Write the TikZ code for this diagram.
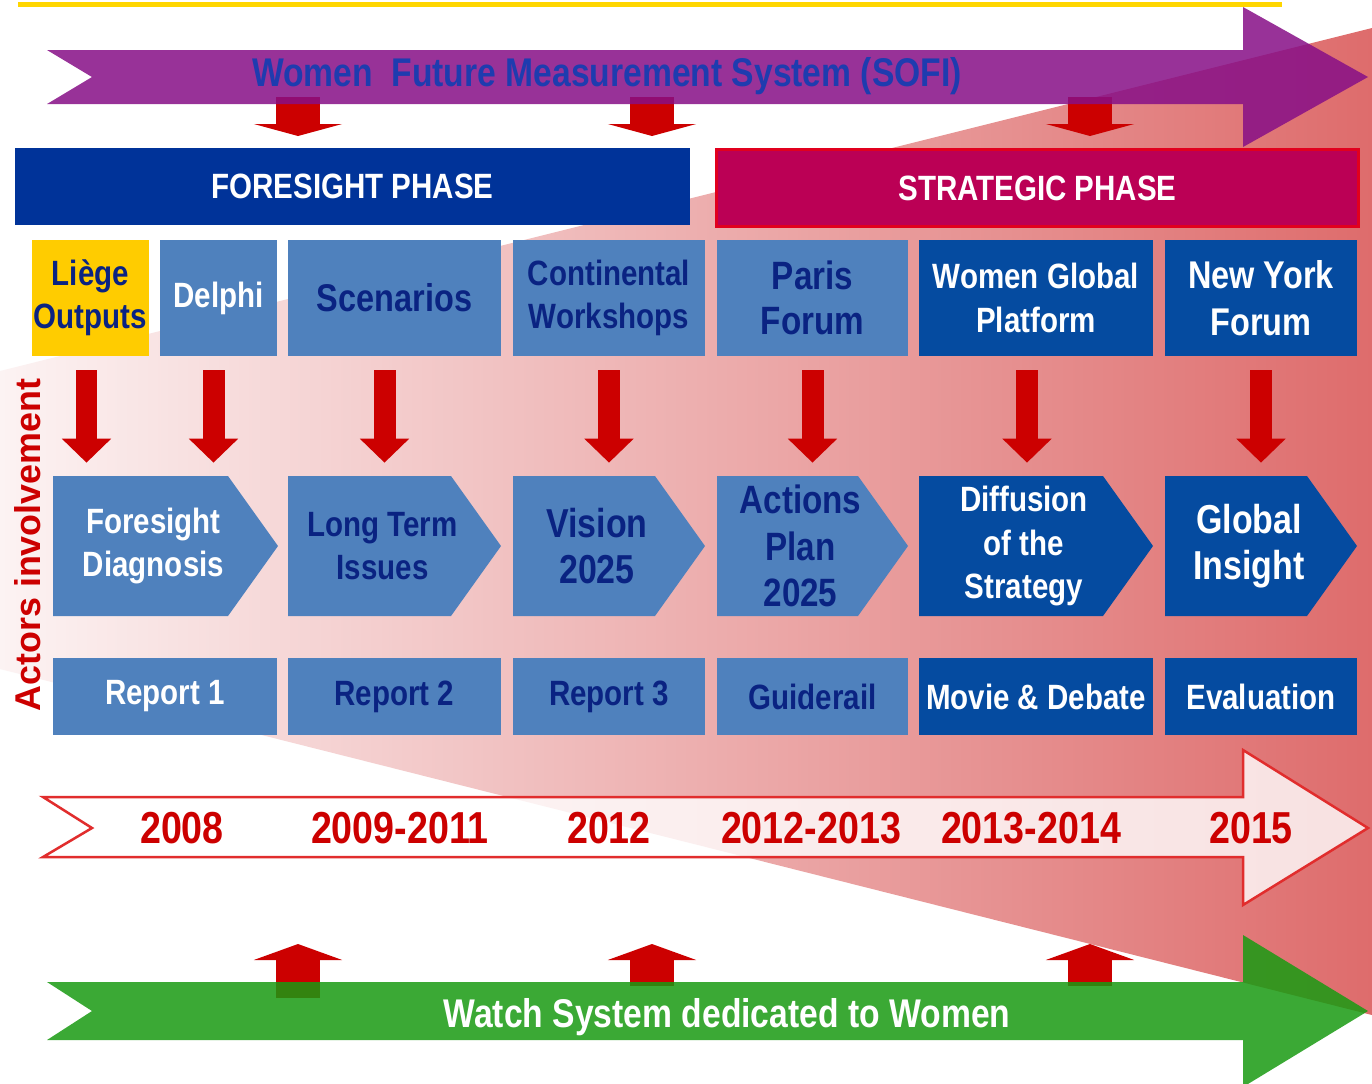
\documentclass[tikz,border=0pt]{standalone}
\usepackage{fontspec}
\setmainfont{Liberation Sans}
\newfontfamily\narrowsans[FakeStretch=0.84]{Liberation Sans}
\usetikzlibrary{arrows.meta}

\newlength\pxu
\setlength\pxu{0.02cm}

\definecolor{sofipurple}{RGB}{135,15,135}
\definecolor{watchgreen}{RGB}{25,155,18}
\definecolor{forenavy}{RGB}{0,51,153}
\definecolor{stratred}{RGB}{187,0,85}
\definecolor{stratedge}{RGB}{225,0,30}
\definecolor{boxlight}{RGB}{79,129,189}
\definecolor{boxdark}{RGB}{5,75,160}
\definecolor{liegeyellow}{RGB}{255,204,0}
\definecolor{navytext}{RGB}{10,35,130}
\definecolor{arrowred}{RGB}{204,0,0}
\definecolor{linered}{RGB}{225,45,45}
\definecolor{wedgepale}{RGB}{252,243,243}
\definecolor{wedgedeep}{RGB}{222,108,108}
\definecolor{titleblue}{RGB}{30,60,175}
\definecolor{topyellow}{RGB}{255,214,0}

\tikzset{
  fs/.style 2 args={font=\narrowsans\bfseries\fontsize{#1}{#2}\selectfont},
  box/.style={rectangle, inner sep=0pt, align=center, fs={20}{24.5}},
  lightbox/.style={box, fill=boxlight, text=navytext},
  darkbox/.style={box, fill=boxdark, text=white},
  topbox/.style={minimum height=116\pxu},
  repbox/.style={minimum height=77\pxu},
  chevron/.style={rectangle, inner sep=0pt, align=center, fs={20}{24.5},
    minimum height=140\pxu,
    path picture={\fill[#1]
      ([xshift=24\pxu]path picture bounding box.north west)
      -- ([xshift=-50\pxu]path picture bounding box.north east)
      -- (path picture bounding box.east)
      -- ([xshift=-50\pxu]path picture bounding box.south east)
      -- ([xshift=24\pxu]path picture bounding box.south west) -- cycle;}},
  phasebar/.style={rectangle, inner sep=0pt, text=white, fs={20}{24}},
  yearlabel/.style={text=arrowred, fs={25.5}{30}},
  feed/.style={draw=arrowred, line width=0.44cm,
    -{Triangle[width=0.96cm,length=0.48cm]},
    shorten <=0.28cm, shorten >=0.26cm},
  dropfeed/.style={draw=arrowred, line width=0.88cm,
    -{Triangle[width=1.76cm,length=0.24cm]}},
  risefeed/.style={draw=arrowred, line width=0.88cm,
    -{Triangle[width=1.76cm,length=0.32cm]}}
}

\begin{document}
\begin{tikzpicture}[x=0.02cm, y=-0.02cm]
  \useasboundingbox (0,0) rectangle (1372,1083);
  \fill[white] (0,0) rectangle (1372,1083);

  % actors involvement wedge
  \shade[left color=wedgepale, right color=wedgedeep]
    (1372,28) -- (0,371) -- (0,669) -- (1372,1015) -- cycle;

  % feeds from the two systems
  \coordinate (s1) at (298,97);  \coordinate (e1) at (298,136);
  \coordinate (s2) at (652,97);  \coordinate (e2) at (652,136);
  \coordinate (s3) at (1090,97); \coordinate (e3) at (1090,136);
  \coordinate (w1) at (298,998); \coordinate (u1) at (298,944);
  \coordinate (w2) at (652,986); \coordinate (u2) at (652,944);
  \coordinate (w3) at (1090,986); \coordinate (u3) at (1090,944);
  \draw[dropfeed] (s1) -- (e1);
  \draw[dropfeed] (s2) -- (e2);
  \draw[dropfeed] (s3) -- (e3);
  \draw[risefeed] (w1) -- (u1);
  \draw[risefeed] (w2) -- (u2);
  \draw[risefeed] (w3) -- (u3);

  \draw[topyellow, line width=0.1cm] (18,4) -- (1282,4);

  \fill[sofipurple, fill opacity=.85]
    (47,50) -- (1243,50) -- (1243,7) -- (1368,77) -- (1243,147)
    -- (1243,104) -- (47,104) -- (92,77) -- cycle;
  \node[text=titleblue, fs={22.8}{26}] (sofi) at (607,76)
    {Women\ \ Future Measurement System (SOFI)};

  \fill[watchgreen, fill opacity=.85]
    (47,982) -- (1243,982) -- (1243,935) -- (1368,1011) -- (1243,1087)
    -- (1243,1040) -- (47,1040) -- (92,1011) -- cycle;
  \node[text=white, fs={22.8}{26}] (watch) at (727,1017)
    {Watch System dedicated to Women};

  % time line
  \draw[linered, line width=0.05cm, fill=white, fill opacity=.8]
    (43,797) -- (1243,797) -- (1243,750) -- (1368,828) -- (1243,905)
    -- (1243,857) -- (43,857) -- (92,828) -- cycle;
  \node[yearlabel] (y1) at (182,828) {2008};
  \node[yearlabel] (y2) at (400,828) {2009-2011};
  \node[yearlabel] (y3) at (609,828) {2012};
  \node[yearlabel] (y4) at (811,828) {2012-2013};
  \node[yearlabel] (y5) at (1031,828) {2013-2014};
  \node[yearlabel] (y6) at (1251,828) {2015};

  \node[phasebar, fill=forenavy, minimum width=675\pxu, minimum height=77\pxu]
    (fore) at (352.5,186.5) {FORESIGHT PHASE};
  \node[phasebar, fill=stratred, draw=stratedge, line width=0.06cm,
    minimum width=642\pxu, minimum height=77\pxu]
    (strat) at (1037.5,188) {STRATEGIC PHASE};

  \node[lightbox, topbox, fill=liegeyellow, minimum width=117\pxu]
    (liege) at (90.5,298) {Liège\\Outputs};
  \node[lightbox, topbox, text=white, minimum width=117\pxu]
    (delphi) at (218.5,298) {Delphi};
  \node[lightbox, topbox, fs={22}{26}, minimum width=213\pxu]
    (scen) at (394.5,298) {Scenarios};
  \node[lightbox, topbox, minimum width=192\pxu]
    (conti) at (609,298) {Continental\\Workshops};
  \node[lightbox, topbox, fs={22.5}{26}, minimum width=191\pxu]
    (paris) at (812.5,298) {Paris\\Forum};
  \node[darkbox, topbox, fs={20}{25}, minimum width=234\pxu]
    (wgp) at (1036,298) {Women Global\\Platform};
  \node[darkbox, topbox, fs={22}{26.6}, minimum width=192\pxu]
    (nyf) at (1261,298) {New York\\Forum};

  \node[chevron=boxlight, text=white, minimum width=249\pxu]
    (diag) at (153.5,546) {Foresight\\Diagnosis};
  \node[chevron=boxlight, text=navytext, minimum width=237\pxu]
    (issues) at (382.5,546) {Long Term\\Issues};
  \node[chevron=boxlight, text=navytext, fs={23}{26}, minimum width=216\pxu]
    (vision) at (597,546) {Vision\\2025};
  \node[chevron=boxlight, text=navytext, fs={22.5}{26.6}, minimum width=215\pxu]
    (actions) at (800.5,546) {Actions\\Plan\\2025};
  \node[chevron=boxdark, text=white, fs={20}{25}, minimum width=258\pxu]
    (diffu) at (1024,546) {Diffusion\\of the\\Strategy};
  \node[chevron=boxdark, text=white, fs={23}{26.6}, minimum width=216\pxu]
    (insight) at (1249,546) {Global\\Insight};

  \node[lightbox, repbox, text=white, minimum width=224\pxu]
    (rep1) at (165,696.5) {Report 1};
  \node[lightbox, repbox, minimum width=213\pxu]
    (rep2) at (394.5,696.5) {Report 2};
  \node[lightbox, repbox, minimum width=192\pxu]
    (rep3) at (609,696.5) {Report 3};
  \node[lightbox, repbox, minimum width=191\pxu]
    (guide) at (812.5,696.5) {Guiderail};
  \node[darkbox, repbox, minimum width=234\pxu]
    (movie) at (1036,696.5) {Movie \& Debate};
  \node[darkbox, repbox, minimum width=192\pxu]
    (evalu) at (1261,696.5) {Evaluation};

  \node[rotate=90, text=arrowred, font=\bfseries\fontsize{20.4}{24}\selectfont]
    (actors) at (28,545) {Actors involvement};

  % actors feeding the steps
  \draw[feed] ([xshift=-4\pxu]liege.south) -- ([xshift=-4\pxu]liege.south |- diag.north);
  \draw[feed] ([xshift=-5\pxu]delphi.south) -- ([xshift=-5\pxu]delphi.south |- diag.north);
  \draw[feed] ([xshift=-10\pxu]scen.south) -- ([xshift=-10\pxu]scen.south |- issues.north);
  \draw[feed] (conti.south) -- (conti.south |- vision.north);
  \draw[feed] (paris.south) -- (paris.south |- actions.north);
  \draw[feed] ([xshift=-9\pxu]wgp.south) -- ([xshift=-9\pxu]wgp.south |- diffu.north);
  \draw[feed] (nyf.south) -- (nyf.south |- insight.north);
\end{tikzpicture}
\end{document}
